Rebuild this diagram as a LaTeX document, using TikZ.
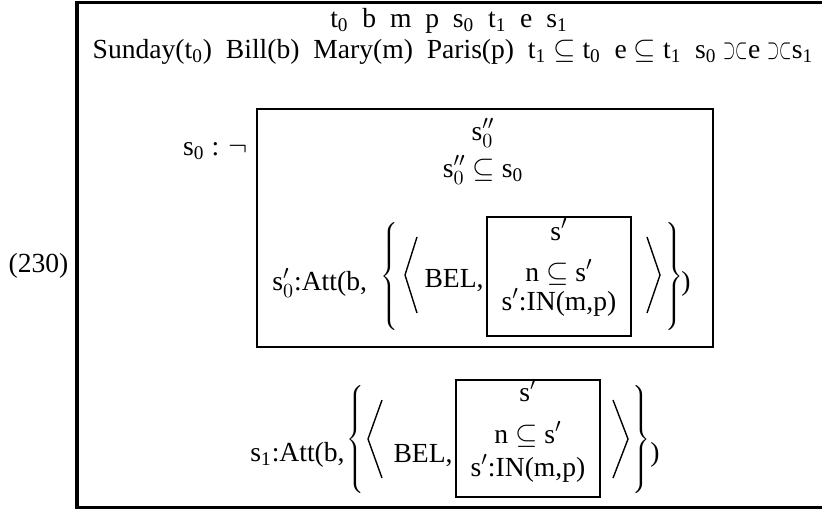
\documentclass[tikz,border=0pt]{standalone}
\usepackage{fontspec}
\setmainfont{Liberation Serif}
\usepackage{tikz}
\newcommand{\ix}[2]{#1\textsubscript{#2}}
\newcommand{\dgap}{\hspace{0.5em}}
\newcommand{\olap}{\scalebox{0.55}[1]{$\supset$}\scalebox{0.55}[1]{$\subset$}}
\newcommand{\lbrc}[1]{$\left\{\vcenter{\hbox{\vrule height #1 depth #1 width 0pt}}\right.$}
\newcommand{\rbrc}[1]{$\left.\vcenter{\hbox{\vrule height #1 depth #1 width 0pt}}\right\}$}

\begin{document}
\begin{tikzpicture}[x=0.5pt,y=-0.5pt,font=\fontsize{13.8}{16}\selectfont,
  txt/.style={anchor=base,inner sep=0pt},
  lft/.style={anchor=base west,inner sep=0pt},
  rgt/.style={anchor=base east,inner sep=0pt},
  delim/.style={inner sep=0pt},
  drsbox/.style={line width=1.2pt},
  ang/.style={line width=0.7pt}]
  \useasboundingbox (0,0) rectangle (822,510);
  % outer box, its right side lies past the edge
  \draw[line width=1.6pt] (822,2.5) -- (77,2.5) -- (77,507.5) -- (822,507.5);
  % universe and conditions
  \node[txt] (univ) at (449,27)
    {\ix{t}{0}\dgap b\dgap m\dgap p\dgap \ix{s}{0}\dgap \ix{t}{1}\dgap e\dgap \ix{s}{1}};
  \node[txt] (conds) at (453,58)
    {Sunday(\ix{t}{0})\dgap Bill(b)\dgap Mary(m)\dgap Paris(p)\dgap
     \ix{t}{1} $\subseteq$ \ix{t}{0}\dgap e $\subseteq$ \ix{t}{1}\dgap
     \ix{s}{0} \olap e \olap\ix{s}{1}};
  \node[txt] (exno) at (38.5,272) {(230)};
  \node[rgt] (neg) at (248,155) {\ix{s}{0} : $\neg$};
  % negated box
  \draw[drsbox] (257,109) rectangle (713,347);
  \node[txt] (negun) at (483,140) {s$^{\prime\prime}_{0}$};
  \node[txt] (negcond) at (483,177) {s$^{\prime\prime}_{0}$ $\subseteq$ \ix{s}{0}};
  \node[lft] (attA) at (272,290) {s$^{\prime}_{0}$:Att(b,};
  \node[delim] (lbA) at (391,276) {\lbrc{27pt}};
  \draw[ang] (417,237) -- (405,275) -- (417,313);
  \node[rgt] (belA) at (484,287) {BEL,};
  \draw[drsbox] (487,217) rectangle (631,336);
  \node[txt] (unA) at (559,240) {s$'$};
  \node[txt] (inA) at (559,281) {n $\subseteq$ s$'$};
  \node[txt] (locA) at (559,310) {s$'$:IN(m,p)};
  \draw[ang] (647,237) -- (660,275) -- (647,313);
  \node[delim] (rbA) at (673,276) {\rbrc{27pt}};
  \node[lft] (clA) at (681,290) {)};
  % second attitude
  \node[rgt] (attB) at (345,461) {\ix{s}{1}:Att(b,};
  \node[delim] (lbB) at (357,439) {\lbrc{28pt}};
  \draw[ang] (382,400) -- (368,439) -- (382,478);
  \node[rgt] (belB) at (453,462) {BEL,};
  \draw[drsbox] (456,380) rectangle (600,497);
  \node[txt] (unB) at (528,401) {s$'$};
  \node[txt] (inB) at (528,443) {n $\subseteq$ s$'$};
  \node[txt] (locB) at (528,476) {s$'$:IN(m,p)};
  \draw[ang] (613,400) -- (628,439) -- (613,478);
  \node[delim] (rbB) at (640,439) {\rbrc{28pt}};
  \node[lft] (clB) at (650,461) {)};
\end{tikzpicture}
\end{document}
